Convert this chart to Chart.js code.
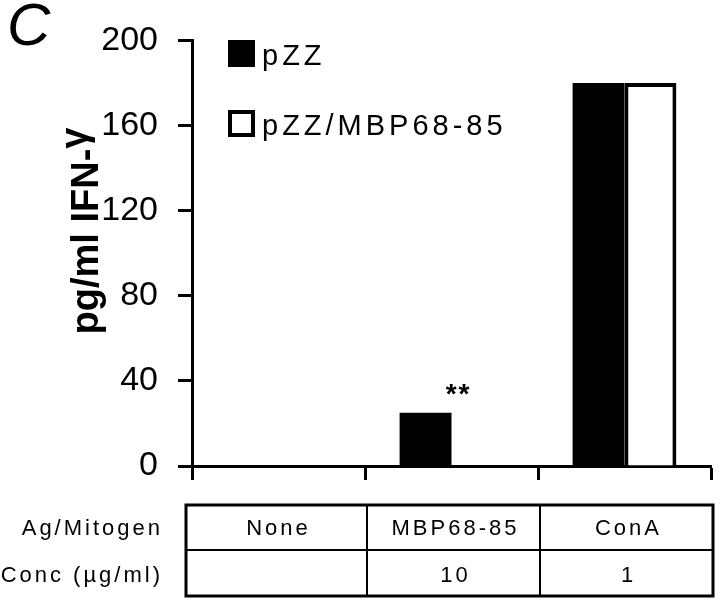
<!DOCTYPE html>
<html>
<head>
<meta charset="UTF-8">
<title>IFN-gamma chart</title>
<script src="https://cdn.jsdelivr.net/npm/chart.js"></script>
<style>
    body { margin: 0; background: #fff; }
    #wrap { width: 720px; height: 602px; }
</style>
</head>
<body>
<div id="wrap"><canvas id="ifnChart" width="720" height="602"></canvas></div>
<script>
// values
const categories = ['None', 'MBP68-85', 'ConA'];
const concLabels = ['', '10', '1'];
const rowLabels = ['Ag/Mitogen', 'Conc (µg/ml)'];
const pzzValues = [0, 25, 180];
const pzzMbpValues = [0, 0, 180];
const significance = ['', '**', ''];
const yTicks = [0, 40, 80, 120, 160, 200];

const FONT = "'Liberation Sans', Arial, Helvetica, sans-serif";

// panel letter, axis title, legend, stars and the condition table
const extras = {
    id: 'extras',
    afterDraw(chart) {
        const ctx = chart.ctx;
        const x = chart.scales.x;

        ctx.save();
        ctx.fillStyle = '#000';
        ctx.strokeStyle = '#000';

        // panel letter
        ctx.font = 'italic 60px ' + FONT;
        ctx.textAlign = 'left';
        ctx.textBaseline = 'alphabetic';
        ctx.fillText('C', 7, 45);

        // y title, gamma raised like the original symbol font
        ctx.save();
        ctx.translate(98, 231);
        ctx.rotate(-Math.PI / 2);
        ctx.font = 'bold 38px ' + FONT;
        const main = 'pg/ml IFN-', greek = 'γ';
        const w1 = ctx.measureText(main).width;
        const w2 = ctx.measureText(greek).width;
        const start = -(w1 + w2) / 2;
        ctx.textAlign = 'left';
        ctx.fillText(main, start, 0);
        ctx.fillText(greek, start + w1, -11);
        ctx.restore();

        // legend
        ctx.font = '29px ' + FONT;
        ctx.letterSpacing = '4px';
        chart.data.datasets.forEach((ds, i) => {
            const top = 40 + i * 70;
            ctx.fillStyle = ds.backgroundColor;
            ctx.fillRect(228, top, 27, 27);
            ctx.lineWidth = 4;
            ctx.strokeRect(230, top + 2, 23, 23);
            ctx.fillStyle = '#000';
            ctx.textAlign = 'left';
            ctx.fillText(ds.label, 262, top + 25);
        });

        // significance stars above pZZ bars
        ctx.font = 'bold 28px ' + FONT;
        ctx.letterSpacing = '2px';
        ctx.textAlign = 'center';
        const meta = chart.getDatasetMeta(0);
        significance.forEach((s, i) => {
            if (!s) return;
            const bar = meta.data[i];
            ctx.fillText(s, bar.x + 33, bar.y - 10);
        });

        // condition table
        const colW = x.width / categories.length;
        const edges = [x.left - 6];
        for (let i = 1; i <= categories.length; i++) edges.push(x.left + i * colW + 2);
        const top = 505, mid = 550, bottom = 596;
        ctx.lineWidth = 3;
        ctx.strokeRect(edges[0], top, edges[edges.length - 1] - edges[0], bottom - top);
        ctx.beginPath();
        ctx.moveTo(edges[0], mid);
        ctx.lineTo(edges[edges.length - 1], mid);
        for (let i = 1; i < edges.length - 1; i++) {
            ctx.moveTo(edges[i], top);
            ctx.lineTo(edges[i], bottom);
        }
        ctx.lineWidth = 2;
        ctx.stroke();

        ctx.font = '22px ' + FONT;
        ctx.letterSpacing = '3px';
        const baselines = [535, 582];
        ctx.textAlign = 'right';
        rowLabels.forEach((r, i) => ctx.fillText(r, 163, baselines[i]));
        ctx.textAlign = 'center';
        categories.forEach((c, i) => {
            const cx = (edges[i] + edges[i + 1]) / 2 + 2;
            ctx.fillText(c, cx, baselines[0]);
            ctx.fillText(concLabels[i], cx, baselines[1]);
        });
        ctx.restore();
    }
};

new Chart(document.getElementById('ifnChart'), {
    type: 'bar',
    data: {
        labels: categories,
        datasets: [
            {
                label: 'pZZ',
                data: pzzValues,
                backgroundColor: '#000',
                borderColor: '#000',
                borderWidth: 0
            },
            {
                label: 'pZZ/MBP68-85',
                data: pzzMbpValues,
                backgroundColor: '#fff',
                borderColor: '#000',
                borderWidth: 4,
                borderSkipped: 'start'
            }
        ]
    },
    options: {
        responsive: false,
        animation: false,
        events: [],
        categoryPercentage: 0.6,
        barPercentage: 1.0,
        layout: { padding: { top: 28, right: 9, left: 0, bottom: 0 } },
        plugins: {
            legend: { display: false },
            tooltip: { enabled: false }
        },
        scales: {
            x: {
                offset: true,
                grid: {
                    offset: true,
                    drawOnChartArea: false,
                    drawTicks: true,
                    tickLength: 14,
                    tickColor: '#000',
                    tickWidth: 3
                },
                border: { display: true, color: '#000', width: 3 },
                ticks: { display: false },
                afterFit(scale) { scale.height = 136; }
            },
            y: {
                min: yTicks[0],
                max: yTicks[yTicks.length - 1],
                afterBuildTicks(scale) { scale.ticks = yTicks.map(v => ({ value: v })); },
                grid: {
                    drawOnChartArea: false,
                    drawTicks: true,
                    tickLength: 14,
                    tickColor: '#000',
                    tickWidth: 3
                },
                border: { display: true, color: '#000', width: 3 },
                ticks: {
                    color: '#000',
                    padding: 20,
                    font: { family: FONT, size: 34 }
                },
                afterFit(scale) { scale.width = 192; }
            }
        }
    },
    plugins: [extras]
});
</script>
</body>
</html>
